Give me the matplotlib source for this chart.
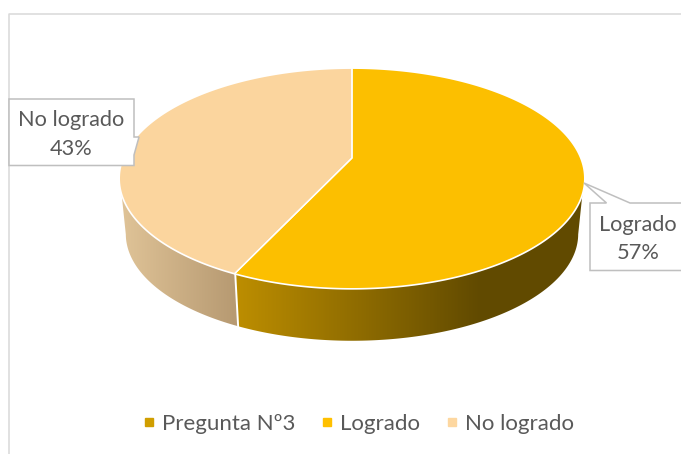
import numpy as np
import matplotlib
matplotlib.use('Agg')
import matplotlib.pyplot as plt
from matplotlib.colors import LinearSegmentedColormap
from matplotlib.lines import Line2D

plt.rcParams['font.family'] = ['Lato', 'DejaVu Sans']

labels = ['Logrado', 'No logrado']
values = [57, 43]
legend_names = ['Pregunta Nº3', 'Logrado', 'No logrado']
legend_colors = ['#d09e00', '#ffc000', '#fdd7a0']
top_colors = ['#fcbf00', '#fbd59e']
wall_colors = [['#bd8e00', '#614a00'], ['#dfc397', '#b79a72']]
wall_spans = [(235, 480), (122, 235)]

TEXT = '#595959'
GREY = '#bfbfbf'

fig, ax = plt.subplots(figsize=(6.81, 4.54), dpi=100)
ax.set_position([0, 0, 1, 1])
ax.axis('off')


# circle -> screen, with a bit of perspective (far edge looks smaller)
def project(theta, cx=352, cy=158, scale=1.0):
    u, v = np.sin(theta), np.cos(theta)
    k = 0.187
    d = 1 + k * v
    return cx + scale * 227.9 * u / d, cy - scale * 105.7 * v / d


edges = np.concatenate([[0], np.cumsum(values)]) / sum(values) * 2 * np.pi

# where the outline is widest, the wall only shows between these two
all_th = np.linspace(0, 2 * np.pi, 721)
x_all, y_all = project(all_th)
th_right = all_th[np.argmax(x_all)]
th_left = all_th[np.argmin(x_all)]

# side walls first, top faces cover the rest
for i in range(len(values)):
    th = np.linspace(max(edges[i], th_right), min(edges[i + 1], th_left), 200)
    x1, y1 = project(th)
    x2, y2 = project(th, cy=214, scale=0.975)
    xs = np.concatenate([x1, x2[::-1]])
    ys = np.concatenate([y1, y2[::-1]])
    poly = ax.fill(xs, ys, color='white', lw=0, zorder=1)[0]
    cmap = LinearSegmentedColormap.from_list('w%d' % i, wall_colors[i])
    left, right = wall_spans[i]
    grad = np.clip((np.arange(0, 681) - left) / (right - left), 0, 1)[None, :]
    im = ax.imshow(grad, cmap=cmap, vmin=0, vmax=1, extent=(0, 681, 454, 0),
                   aspect='auto', zorder=1.5)
    im.set_clip_path(poly)

# white line between the two walls
x1, y1 = project(edges[1])
x2, y2 = project(edges[1], cy=214, scale=0.975)
ax.plot([x1, x2], [y1, y2], color='white', lw=1.4, zorder=2)

# top faces
ax.fill(x_all, y_all, facecolor='none', edgecolor='white', lw=2.4, zorder=2.5)
for i in range(len(values)):
    th = np.linspace(edges[i], edges[i + 1], 200)
    x, y = project(th)
    ax.fill(np.r_[352, x], np.r_[158, y], color=top_colors[i], lw=0, zorder=3)
    ax.plot(np.r_[x[0], 352, x[-1]], np.r_[y[0], 158, y[-1]], color='white', lw=1, zorder=3.2)

# chart border
ax.plot([8.5, 8.5, 681], [454, 14, 14], color='#d9d9d9', lw=1.1, zorder=4)

# callouts
ax.fill([9, 134, 134, 139, 134, 134, 9], [99, 99, 137, 137, 155, 165.5, 165.5],
        facecolor='white', edgecolor=GREY, lw=1.1, zorder=5)
ax.fill([590, 606.5, 584, 630, 690, 690, 590], [203, 203, 183, 203, 203, 270.5, 270.5],
        facecolor='white', edgecolor=GREY, lw=1.1, zorder=5)

ax.text(71, 120, labels[1], color=TEXT, fontsize=15.7, ha='center', va='center', zorder=6)
ax.text(71, 149, '%d%%' % values[1], color=TEXT, fontsize=15.7, ha='center', va='center', zorder=6)
ax.text(638, 225, labels[0], color=TEXT, fontsize=15.7, ha='center', va='center', zorder=6)
ax.text(638, 253, '%d%%' % values[0], color=TEXT, fontsize=15.7, ha='center', va='center', zorder=6)

handles = [Line2D([], [], ls='none', marker='s', ms=5.5, color=c) for c in legend_colors]
ax.legend(handles, legend_names, loc='center', bbox_to_anchor=(358.5, 424),
          bbox_transform=ax.transData, ncol=3, frameon=False, fontsize=16,
          labelcolor=TEXT, handlelength=0.5, handletextpad=0.32, columnspacing=1.2)

ax.set_xlim(0, 681)
ax.set_ylim(454, 0)

fig.savefig('out.png', dpi=100)
